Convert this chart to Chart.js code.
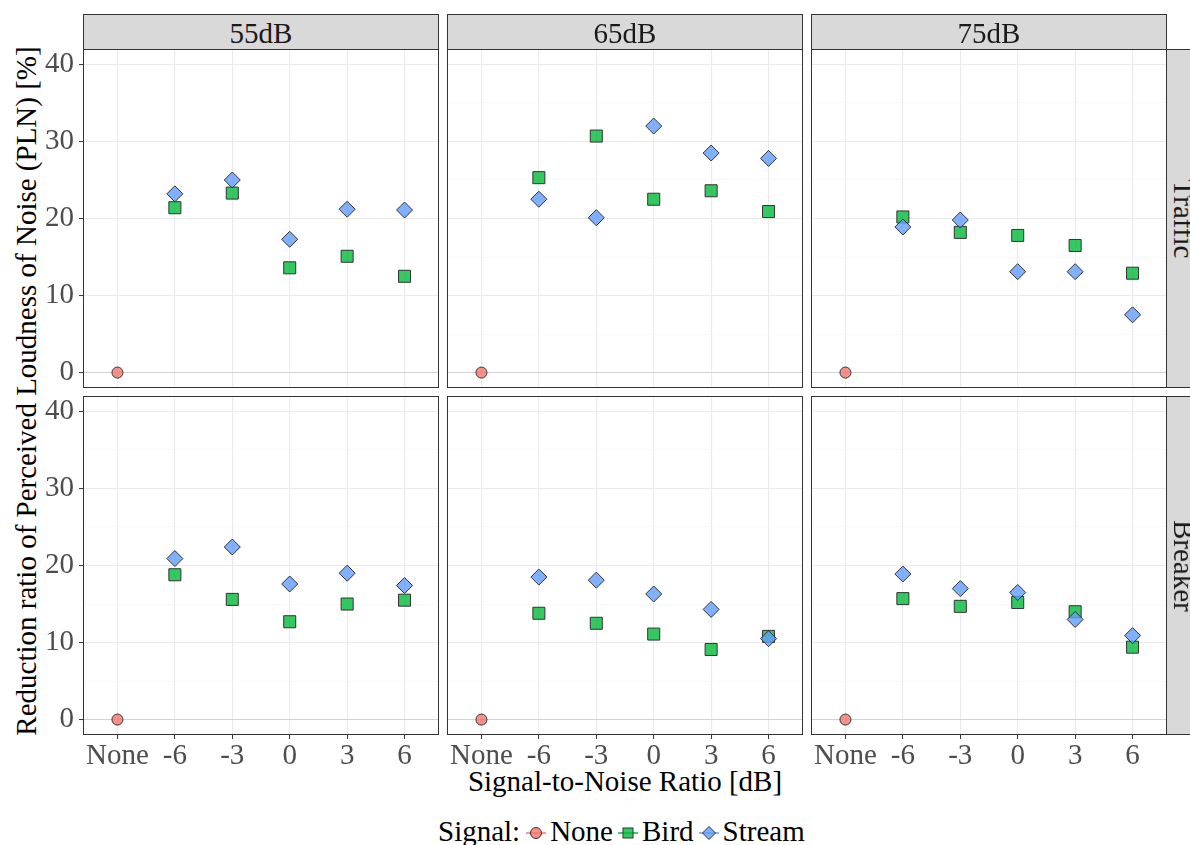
<!DOCTYPE html>
<html>
<head>
<meta charset="utf-8">
<title>Reduction ratio of PLN by signal and SNR</title>
<script src="https://cdn.jsdelivr.net/npm/chart.js@4.4.1/dist/chart.umd.min.js"></script>
<style>
  html, body { margin: 0; padding: 0; background: #fff; }
  body {
    width: 1190px; height: 845px; position: relative; overflow: hidden;
    font-family: 'Liberation Serif', 'Times New Roman', serif;
  }
  canvas { position: absolute; }
  .frame { position: absolute; box-sizing: border-box; border: 1px solid #333; pointer-events: none; }
  .strip {
    position: absolute; box-sizing: border-box; background: #d9d9d9; border: 1px solid #333;
    color: #1a1a1a; font-size: 29px; line-height: 34px; text-align: center;
  }
  .strip.top { padding-top: 1px; }
  .strip .rot {
    position: absolute; left: 50%; top: 50%; white-space: nowrap; height: 34px;
    transform: translate(-50%, -50%) rotate(90deg);
  }
  .title { position: absolute; font-size: 29px; line-height: 34px; height: 34px; white-space: nowrap; color: #000; }
  #ytitle { left: 26px; top: 391px; transform: translate(-50%, -50%) rotate(-90deg); }
  #xtitle { left: 625px; top: 764px; transform: translateX(-50%); }
  #legend {
    position: absolute; left: 438px; top: 814px; height: 34px; line-height: 34px;
    display: flex; align-items: center; white-space: nowrap; font-size: 29px; color: #000;
  }
  #legend svg { display: block; }
  #legend .lab { margin: 0 5px 0 4px; }
  #legend .head { margin-right: 6px; }
</style>
</head>
<body>
<div class="title" id="ytitle">Reduction ratio of Perceived Loudness of Noise (PLN) [%]</div>
<div class="title" id="xtitle">Signal-to-Noise Ratio [dB]</div>
<div id="legend"></div>
<script>
// x categories: no signal, then signal-to-noise ratio in dB
const snrLabels = ['None', '-6', '-3', '0', '3', '6'];
const levelLabels = ['55dB', '65dB', '75dB'];
const noiseLabels = ['Traffic', 'Breaker'];
const signalLabels = ['None', 'Bird', 'Stream'];
const yTickValues = [0, 5, 10, 15, 20, 25, 30, 35, 40];

// reduction ratio of PLN [%]; None has one value, the others are for SNR -6, -3, 0, 3, 6
const noneReduction = [0];
const traffic55Bird   = [21.4, 23.3, 13.6, 15.1, 12.5];
const traffic55Stream = [23.2, 25.0, 17.3, 21.2, 21.1];
const traffic65Bird   = [25.3, 30.7, 22.5, 23.6, 20.9];
const traffic65Stream = [22.5, 20.1, 32.0, 28.5, 27.8];
const traffic75Bird   = [20.2, 18.2, 17.8, 16.5, 12.9];
const traffic75Stream = [18.9, 19.8, 13.1, 13.1, 7.5];
const breaker55Bird   = [18.8, 15.6, 12.7, 15.0, 15.5];
const breaker55Stream = [20.9, 22.4, 17.6, 19.0, 17.4];
const breaker65Bird   = [13.8, 12.5, 11.1, 9.1, 10.8];
const breaker65Stream = [18.5, 18.1, 16.3, 14.3, 10.5];
const breaker75Bird   = [15.7, 14.7, 15.2, 14.0, 9.4];
const breaker75Stream = [18.9, 17.0, 16.5, 13.0, 10.9];

// rows = noise type, columns = noise level
const panelData = [
  [[traffic55Bird, traffic55Stream], [traffic65Bird, traffic65Stream], [traffic75Bird, traffic75Stream]],
  [[breaker55Bird, breaker55Stream], [breaker65Bird, breaker65Stream], [breaker75Bird, breaker75Stream]]
];

// layout
const PANEL_X = [83, 447, 811];
const PANEL_Y = [49, 396];
const PANEL_W = 356, PANEL_H = 339;
const Y_AXIS_W = 83, X_AXIS_H = 40;
const STRIP_SIZE = 36;

const fills = { None: 'rgba(248,118,109,0.8)', Bird: 'rgba(0,186,56,0.8)', Stream: 'rgba(97,156,255,0.8)' };
const lines = { None: '#F8766D', Bird: '#00BA38', Stream: '#619CFF' };
const EDGE = '#333333';
const TICK_TEXT = '#4D4D4D';

Chart.defaults.font.family = "'Liberation Serif', 'Times New Roman', serif";

function toPoints(values, start) {
  return values.map((v, i) => ({ x: start + i, y: v }));
}

function drawPanel(row, col) {
  const [bird, stream] = panelData[row][col];
  const showX = row === 1;
  const showY = col === 0;
  const left = showY ? PANEL_X[col] - Y_AXIS_W : PANEL_X[col];
  const w = showY ? PANEL_W + Y_AXIS_W : PANEL_W;
  const h = showX ? PANEL_H + X_AXIS_H : PANEL_H;

  const canvas = document.createElement('canvas');
  canvas.width = w;
  canvas.height = h;
  canvas.style.left = left + 'px';
  canvas.style.top = PANEL_Y[row] + 'px';
  canvas.style.width = w + 'px';
  canvas.style.height = h + 'px';
  document.body.appendChild(canvas);

  new Chart(canvas, {
    type: 'scatter',
    data: {
      datasets: [
        { label: 'None', data: toPoints(noneReduction, 0), order: 2,
          pointStyle: 'circle', pointRadius: 5.5, pointHoverRadius: 5.5,
          backgroundColor: fills.None, borderColor: EDGE, borderWidth: 1 },
        { label: 'Bird', data: toPoints(bird, 1), order: 1,
          pointStyle: 'rect', pointRadius: 8.5, pointHoverRadius: 8.5,
          backgroundColor: fills.Bird, borderColor: EDGE, borderWidth: 1 },
        { label: 'Stream', data: toPoints(stream, 1), order: 0,
          pointStyle: 'rectRot', pointRadius: 8, pointHoverRadius: 8,
          backgroundColor: fills.Stream, borderColor: EDGE, borderWidth: 1 }
      ]
    },
    options: {
      responsive: false,
      animation: false,
      events: [],
      layout: { padding: 0, autoPadding: false },
      plugins: { legend: { display: false }, tooltip: { enabled: false } },
      scales: {
        x: {
          type: 'linear', min: -0.6, max: 5.6,
          afterBuildTicks: s => { s.ticks = snrLabels.map((_, i) => ({ value: i })); },
          afterFit: s => { s.height = showX ? X_AXIS_H : 0; s.paddingLeft = 0; s.paddingRight = 0; },
          border: { display: false },
          grid: { color: '#EBEBEB', lineWidth: 1.1, drawTicks: showX, tickLength: 4, tickColor: EDGE, tickWidth: 1 },
          ticks: {
            display: showX, autoSkip: false, maxRotation: 0, padding: 0,
            color: TICK_TEXT, font: { size: 29 },
            callback: v => snrLabels[v]
          }
        },
        y: {
          min: -2, max: 42,
          afterBuildTicks: s => { s.ticks = yTickValues.map(v => ({ value: v })); },
          afterFit: s => { s.width = showY ? Y_AXIS_W : 0; s.paddingTop = 0; s.paddingBottom = 0; },
          border: { display: false },
          grid: {
            color: c => c.tick.value === 0 ? '#D2D2D2' : (c.tick.value % 10 === 0 ? '#EBEBEB' : '#F4F4F4'),
            lineWidth: c => c.tick.value % 10 === 0 ? 1.1 : 0.6,
            drawTicks: showY, tickLength: 4, tickWidth: 1,
            tickColor: c => c.tick.value % 10 === 0 ? EDGE : 'rgba(0,0,0,0)'
          },
          ticks: {
            display: showY, padding: 5, color: TICK_TEXT, font: { size: 29 },
            callback: v => v % 10 === 0 ? v : ''
          }
        }
      }
    }
  });

  const frame = document.createElement('div');
  frame.className = 'frame';
  frame.style.cssText = `left:${PANEL_X[col]}px;top:${PANEL_Y[row]}px;width:${PANEL_W}px;height:${PANEL_H}px`;
  document.body.appendChild(frame);
}

for (let r = 0; r < noiseLabels.length; r++) {
  for (let c = 0; c < levelLabels.length; c++) drawPanel(r, c);
}

// facet strips
levelLabels.forEach((lab, c) => {
  const s = document.createElement('div');
  s.className = 'strip top';
  s.style.cssText = `left:${PANEL_X[c]}px;top:${PANEL_Y[0] - STRIP_SIZE + 1}px;width:${PANEL_W}px;height:${STRIP_SIZE}px`;
  s.textContent = lab;
  document.body.appendChild(s);
});
noiseLabels.forEach((lab, r) => {
  const s = document.createElement('div');
  s.className = 'strip';
  s.style.cssText = `left:${PANEL_X[2] + PANEL_W - 1}px;top:${PANEL_Y[r]}px;width:${STRIP_SIZE}px;height:${PANEL_H}px`;
  const t = document.createElement('span');
  t.className = 'rot';
  t.textContent = lab;
  s.appendChild(t);
  document.body.appendChild(s);
});

// legend keys: coloured line with the point glyph on top
function keySvg(name) {
  let shape;
  if (name === 'None') shape = `<circle cx="10" cy="19" r="5.5" fill="${fills.None}" stroke="${EDGE}" stroke-width="1"/>`;
  else if (name === 'Bird') shape = `<rect x="5" y="14" width="10" height="10" fill="${fills.Bird}" stroke="${EDGE}" stroke-width="1"/>`;
  else shape = `<polygon points="10,12.5 16.5,19 10,25.5 3.5,19" fill="${fills.Stream}" stroke="${EDGE}" stroke-width="1"/>`;
  return `<svg width="20" height="34" viewBox="0 0 20 34"><line x1="0" y1="19" x2="20" y2="19" stroke="${lines[name]}" stroke-width="1.5"/>${shape}</svg>`;
}
document.getElementById('legend').innerHTML =
  '<span class="head">Signal:</span>' +
  signalLabels.map(s => keySvg(s) + `<span class="lab">${s}</span>`).join('');
</script>
</body>
</html>
